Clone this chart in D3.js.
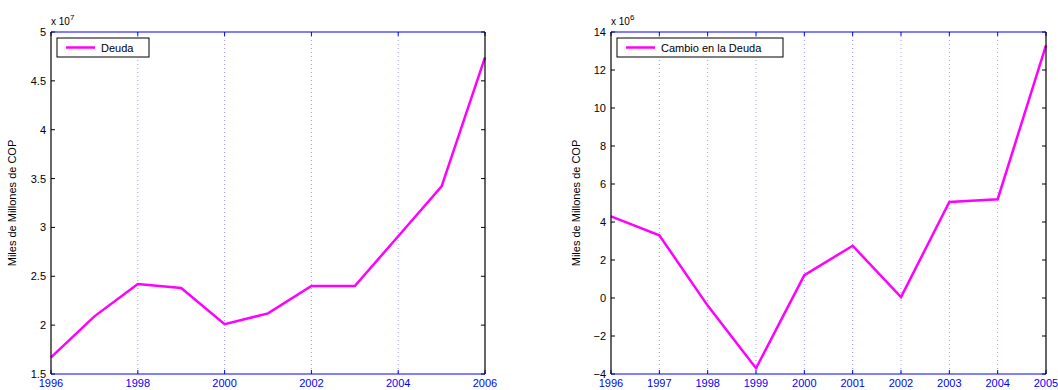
<!DOCTYPE html>
<html><head><meta charset="utf-8">
<script src="https://cdn.jsdelivr.net/npm/d3@7"></script>
<style>body{margin:0;background:#fff}svg{display:block}text{font-family:"Liberation Sans",Arial,sans-serif}</style>
</head><body>
<svg id="c" width="1058" height="390"></svg>
<script>
const yearsA = [1996,1997,1998,1999,2000,2001,2002,2003,2004,2005,2006];
const deuda = [1.67,2.09,2.42,2.38,2.01,2.12,2.40,2.40,2.91,3.42,4.74]; // x 10^7
const xTicksA = [1996,1998,2000,2002,2004,2006];
const yTicksA = [1.5,2,2.5,3,3.5,4,4.5,5];

const yearsB = [1996,1997,1998,1999,2000,2001,2002,2003,2004,2005];
const cambio = [4.3,3.3,-0.4,-3.7,1.2,2.75,0.05,5.05,5.2,13.3]; // x 10^6
const xTicksB = [1996,1997,1998,1999,2000,2001,2002,2003,2004,2005];
const yTicksB = [-4,-2,0,2,4,6,8,10,12,14];

const svg = d3.select("#c");

function panel(o){
  const g = svg.append("g");
  const x = d3.scaleLinear().domain(o.xd).range([o.x0,o.x1]);
  const y = d3.scaleLinear().domain(o.yd).range([o.y1,o.y0]);
  // grid
  g.selectAll(".gx").data(o.xt.slice(1,-1)).join("line")
    .attr("x1",d=>x(d)).attr("x2",d=>x(d)).attr("y1",o.y0).attr("y2",o.y1)
    .attr("stroke","#9a9aff").attr("stroke-width",1).attr("stroke-dasharray","1,3");
  // ticks
  const tl=4;
  o.xt.forEach(d=>{
    g.append("line").attr("x1",x(d)).attr("x2",x(d)).attr("y1",o.y1).attr("y2",o.y1-tl).attr("stroke","#0000ff");
    g.append("line").attr("x1",x(d)).attr("x2",x(d)).attr("y1",o.y0).attr("y2",o.y0+tl).attr("stroke","#0000ff");
  });
  o.yt.forEach(d=>{
    g.append("line").attr("x1",o.x0).attr("x2",o.x0+tl).attr("y1",y(d)).attr("y2",y(d)).attr("stroke","#000");
    g.append("line").attr("x1",o.x1).attr("x2",o.x1-tl).attr("y1",y(d)).attr("y2",y(d)).attr("stroke","#000");
  });
  // line
  g.append("path").datum(o.years.map((yr,i)=>[yr,o.vals[i]]))
    .attr("d",d3.line().x(d=>x(d[0])).y(d=>y(d[1])))
    .attr("fill","none").attr("stroke","#ff00ff").attr("stroke-width",2.5).attr("stroke-linejoin","miter");
  // box
  g.append("line").attr("x1",o.x0).attr("x2",o.x1).attr("y1",o.y0).attr("y2",o.y0).attr("stroke","#0000ff").attr("stroke-width",1.2);
  g.append("line").attr("x1",o.x0).attr("x2",o.x1).attr("y1",o.y1).attr("y2",o.y1).attr("stroke","#0000ff").attr("stroke-width",1.2);
  g.append("line").attr("x1",o.x0).attr("x2",o.x0).attr("y1",o.y0).attr("y2",o.y1).attr("stroke","#000").attr("stroke-width",1.2);
  g.append("line").attr("x1",o.x1).attr("x2",o.x1).attr("y1",o.y0).attr("y2",o.y1).attr("stroke","#000").attr("stroke-width",1.2);
  // tick labels
  g.selectAll(".xl").data(o.xt).join("text").attr("x",d=>x(d)).attr("y",o.y1+13)
    .attr("text-anchor","middle").attr("font-size",11).attr("fill","#0000ff").text(d=>d);
  g.selectAll(".yl").data(o.yt).join("text").attr("x",o.x0-5).attr("y",d=>y(d)+4)
    .attr("text-anchor","end").attr("font-size",11).attr("fill","#000").text(d=>d<0?"\u2212"+Math.abs(d):d);
  // exponent
  const ex = g.append("text").attr("x",o.x0).attr("y",o.y0-7).attr("font-size",10).attr("fill","#000");
  ex.append("tspan").text("x 10");
  ex.append("tspan").attr("dy",-5).attr("font-size",8).text(o.exp);
  // y label
  g.append("text").attr("transform",`translate(${o.x0-o.labOff},${(o.y0+o.y1)/2}) rotate(-90)`)
    .attr("text-anchor","middle").attr("font-size",11).attr("fill","#000").text("Miles de Millones de COP");
  // legend
  const lx=o.x0+6, ly=o.y0+6;
  g.append("rect").attr("x",lx).attr("y",ly).attr("width",o.legW).attr("height",19)
    .attr("fill","#fff").attr("stroke","#000").attr("stroke-width",1);
  g.append("line").attr("x1",lx+9).attr("x2",lx+38).attr("y1",ly+9.5).attr("y2",ly+9.5)
    .attr("stroke","#ff00ff").attr("stroke-width",2.5);
  g.append("text").attr("x",lx+44).attr("y",ly+13.5).attr("font-size",11).attr("fill","#000").text(o.leg);
}

panel({xd:[1996,2006],yd:[1.5,5],x0:51,x1:485,y0:32,y1:374,xt:xTicksA,yt:yTicksA,
  years:yearsA,vals:deuda,exp:"7",labOff:35,leg:"Deuda",legW:92});
panel({xd:[1996,2005],yd:[-4,14],x0:611,x1:1046,y0:32,y1:374,xt:xTicksB,yt:yTicksB,
  years:yearsB,vals:cambio,exp:"6",labOff:31,leg:"Cambio en la Deuda",legW:166});
</script>
</body></html>
